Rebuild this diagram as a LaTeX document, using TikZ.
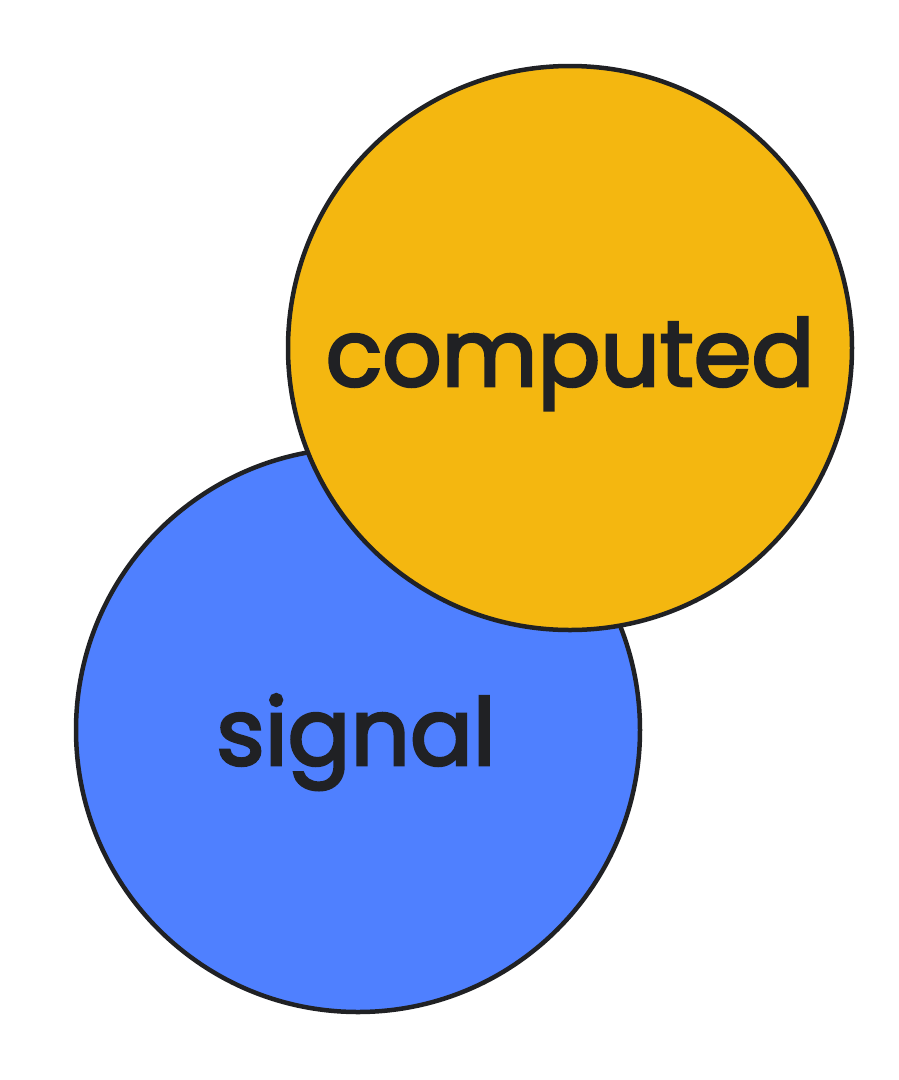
\documentclass[tikz,border=0pt]{standalone}
\usepackage{fontspec}
\setmainfont{Poppins}
\newfontfamily\lblfont[FakeBold=3]{Poppins}
\definecolor{sigblue}{HTML}{4F80FF}
\definecolor{compyellow}{HTML}{F4B710}
\definecolor{inkdark}{HTML}{202124}
\begin{document}
\begin{tikzpicture}[x=1pt,y=-1pt,
  bubble/.style={circle,draw=inkdark,line width=4.5pt,minimum size=564pt,inner sep=0pt},
  lbl/.style={text=inkdark,anchor=base,inner sep=0pt,font=\lblfont\fontsize{93}{100}\selectfont}]
\useasboundingbox (0,0) rectangle (898,1080);
\node[bubble,fill=sigblue] (signal) at (358,730) {};
\node[bubble,fill=compyellow] (computed) at (570,348) {};
\node[lbl] (signallbl) at (356,765) {signal};
\node[lbl] (computedlbl) at (570,386) {computed};
\end{tikzpicture}
\end{document}
